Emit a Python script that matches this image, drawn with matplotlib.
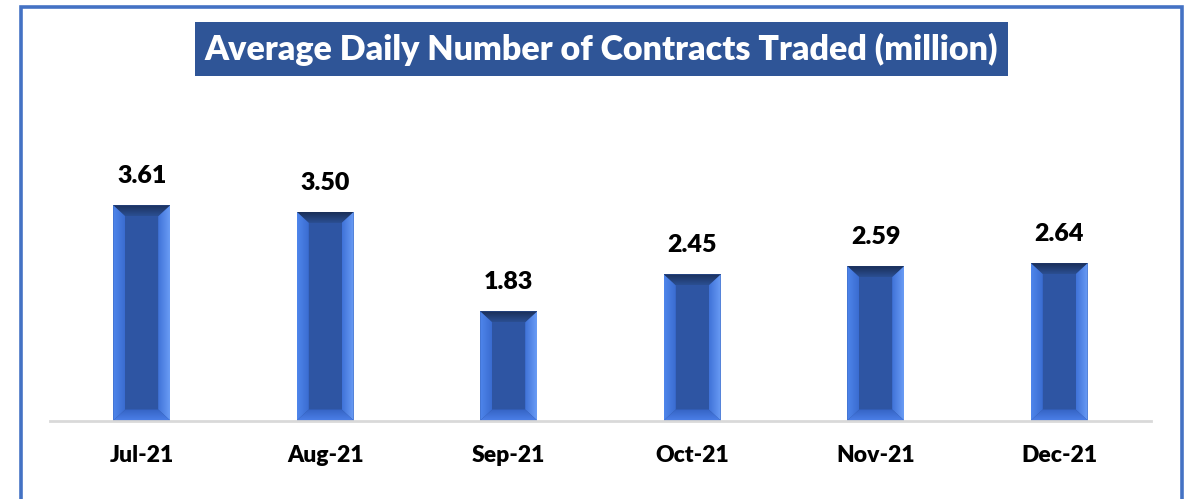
import numpy as np
import matplotlib.pyplot as plt
from matplotlib.patches import Polygon, Rectangle

months = ["Jul-21", "Aug-21", "Sep-21", "Oct-21", "Nov-21", "Dec-21"]
contracts = [3.61, 3.50, 1.83, 2.45, 2.59, 2.64]
title = "Average Daily Number of Contracts Traded (million)"

plt.rcParams['font.family'] = ['Lato', 'DejaVu Sans']

W, H = 1196, 499
fig = plt.figure(figsize=(W / 100, H / 100), dpi=100)

# blue frame around the slide
fig.patches.append(Rectangle((20.5 / W, -0.05), 1161 / W, 1.05 - 6.5 / H,
                             transform=fig.transFigure, fill=False,
                             edgecolor='#4472C4', lw=2.6, clip_on=False))

# title box
fig.patches.append(Rectangle((195 / W, 1 - 76 / H), 813 / W, 54 / H,
                             transform=fig.transFigure, facecolor='#2F5597',
                             edgecolor='none'))
fig.text(601.5 / W, 1 - 49 / H, title, color='white', fontsize=24.5,
         fontweight='heavy', ha='center', va='center')

ax = fig.add_axes([50 / W, 1 - 420.5 / H, 1101 / W, 300 / H])
x = np.arange(len(months))
bw = 0.31
bars = ax.bar(x, contracts, width=bw, color='#2E55A3', zorder=2)
ax.set_xlim(-0.5, len(months) - 0.5)
ax.set_ylim(0, 300 / 59.6)

bx = 12 / 183.5
by = 11 / 59.6


def grad_poly(verts, c1, c2, horizontal=False):
    poly = Polygon(verts, closed=True, facecolor='none', edgecolor='none', zorder=3)
    ax.add_patch(poly)
    xs = [v[0] for v in verts]
    ys = [v[1] for v in verts]
    c1 = np.array(plt.matplotlib.colors.to_rgb(c1))
    c2 = np.array(plt.matplotlib.colors.to_rgb(c2))
    t = np.linspace(0, 1, 64)
    if horizontal:
        img = (c1[None, :] * (1 - t[:, None]) + c2[None, :] * t[:, None])[None, :, :]
    else:
        img = (c1[None, :] * (1 - t[:, None]) + c2[None, :] * t[:, None])[:, None, :]
    im = ax.imshow(img, extent=(min(xs), max(xs), min(ys), max(ys)),
                   origin='lower', aspect='auto', zorder=3, interpolation='bilinear')
    im.set_clip_path(poly)


for b in bars:
    L = b.get_x()
    R = L + b.get_width()
    T = b.get_height()
    B = 0
    Li, Ri, Bi, Ti = L + bx, R - bx, B + by, T - by
    # top bevel (dark)
    grad_poly([(L, T), (R, T), (Ri, Ti), (Li, Ti)], '#2B4F92', '#1A2E58')
    # left bevel
    grad_poly([(L, B), (L, T), (Li, Ti), (Li, Bi)], '#4F86EC', '#3A6CD0', horizontal=True)
    # right bevel
    grad_poly([(R, B), (R, T), (Ri, Ti), (Ri, Bi)], '#3F72D8', '#6A9CF5', horizontal=True)
    # bottom bevel
    grad_poly([(L, B), (R, B), (Ri, Bi), (Li, Bi)], '#4A7EE6', '#3563C4')

for xi, v in zip(x, contracts):
    ax.annotate(f"{v:.2f}", (xi, v), xytext=(0, 13), textcoords='offset points',
                ha='center', va='bottom', fontsize=18, fontweight='heavy',
                color='black')

for s in ['top', 'right', 'left']:
    ax.spines[s].set_visible(False)
ax.spines['bottom'].set_color('#D9D9D9')
ax.spines['bottom'].set_linewidth(2)
ax.set_yticks([])
ax.set_xticks(x)
ax.set_xticklabels(months, fontsize=16.5, fontweight='heavy')
ax.tick_params(axis='x', length=0, pad=18)
ax.set_facecolor('none')

fig.savefig('out.png', dpi=100)
